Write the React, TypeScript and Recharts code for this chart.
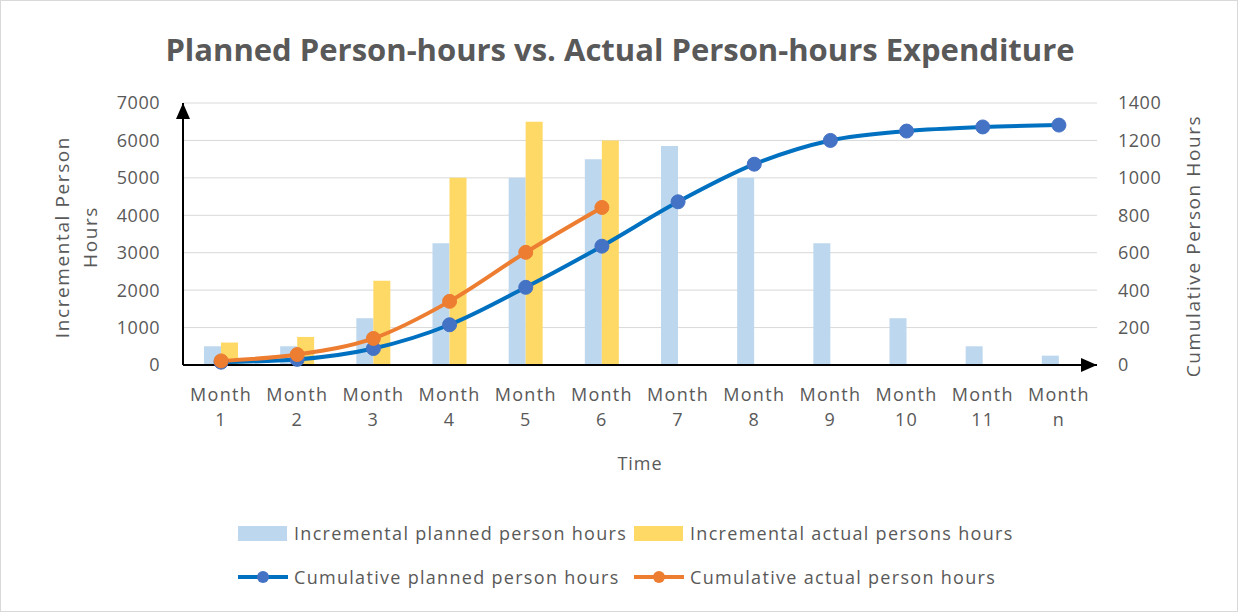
import React from "react";
import {
  ComposedChart,
  Bar,
  Line,
  XAxis,
  YAxis,
  CartesianGrid,
} from "recharts";

const MONTHS = ["1", "2", "3", "4", "5", "6", "7", "8", "9", "10", "11", "n"];
const PLANNED_INC = [500, 500, 1250, 3250, 5000, 5500, 5850, 5000, 3250, 1250, 500, 250];
const ACTUAL_INC = [600, 750, 2250, 5000, 6500, 6000, null, null, null, null, null, null];
const PLANNED_CUM = [15, 30, 88, 215, 415, 635, 872, 1073, 1200, 1250, 1272, 1282];
const ACTUAL_CUM = [22, 56, 142, 340, 602, 842, null, null, null, null, null, null];
const LEFT_TICKS = [0, 1000, 2000, 3000, 4000, 5000, 6000, 7000];
const RIGHT_TICKS = [0, 200, 400, 600, 800, 1000, 1200, 1400];

const data = MONTHS.map((m, i) => ({
  month: m,
  plannedInc: PLANNED_INC[i],
  actualInc: ACTUAL_INC[i],
  plannedCum: PLANNED_CUM[i],
  actualCum: ACTUAL_CUM[i],
}));

const FONT = "'Open Sans', sans-serif";
const GREY = "#595959";

const C_PLANNED_BAR = "#BDD7EE";
const C_ACTUAL_BAR = "#FFD966";
const C_PLANNED_LINE = "#0070C0";
const C_PLANNED_DOT = "#4472C4";
const C_ACTUAL_LINE = "#ED7D31";

function MonthTick(props: any) {
  const { x, y, payload } = props;
  return (
    <text x={x} y={y} textAnchor="middle" fill={GREY} fontSize={18} fontFamily={FONT} letterSpacing={1.3}>
      <tspan x={x} dy={28}>Month</tspan>
      <tspan x={x} dy={25}>{payload.value}</tspan>
    </text>
  );
}

function LegendItem({ kind, color, dot, label }: { kind: "bar" | "line"; color: string; dot?: string; label: string }) {
  return (
    <div style={{ display: "flex", alignItems: "center" }}>
      {kind === "bar" ? (
        <div style={{ width: 49, height: 15, background: color, marginRight: 7 }} />
      ) : (
        <svg width={50} height={16} style={{ marginRight: 6 }}>
          <line x1={0} y1={8} x2={50} y2={8} stroke={color} strokeWidth={4} />
          <circle cx={25} cy={8} r={6} fill={dot} />
        </svg>
      )}
      <span>{label}</span>
    </div>
  );
}

export default function App() {
  return (
    <div
      style={{
        position: "relative",
        width: 1238,
        height: 612,
        boxSizing: "border-box",
        border: "1px solid #D9D9D9",
        background: "#fff",
        fontFamily: FONT,
        overflow: "hidden",
      }}
    >
      <style>{"body{margin:0}"}</style>
      <svg width={0} height={0} style={{ position: "absolute" }}>
        <defs>
          <marker
            id="axisArrow"
            viewBox="0 0 16 14"
            refX={16}
            refY={7}
            markerWidth={16}
            markerHeight={14}
            markerUnits="userSpaceOnUse"
            orient="auto-start-reverse"
          >
            <path d="M0,0 L16,7 L0,14 z" fill="#000" />
          </marker>
        </defs>
      </svg>

      <div
        style={{
          position: "absolute",
          top: 27,
          left: 0,
          width: 1238,
          textAlign: "center",
          fontSize: 31,
          fontWeight: 700,
          color: GREY,
        }}
      >
        Planned Person-hours vs. Actual Person-hours Expenditure
      </div>

      <ComposedChart
        width={1236}
        height={610}
        data={data}
        margin={{ top: 102, right: 80, bottom: 136, left: 122 }}
        barSize={17}
        barGap={0}
        style={{ position: "absolute", top: 0, left: 0 }}
      >
        <CartesianGrid vertical={false} stroke="#D9D9D9" yAxisId="left" />
        <XAxis
          dataKey="month"
          height={110}
          axisLine={{ stroke: "#000", strokeWidth: 2, markerEnd: "url(#axisArrow)" }}
          tickLine={false}
          tick={<MonthTick />}
          interval={0}
          label={{ value: "Time", position: "insideTop", offset: 92, fill: GREY, fontSize: 18, fontFamily: FONT, letterSpacing: 1 }}
        />
        <YAxis
          yAxisId="left"
          domain={[0, 7000]}
          ticks={LEFT_TICKS}
          width={60}
          axisLine={{ stroke: "#000", strokeWidth: 2, markerStart: "url(#axisArrow)" }}
          tickLine={false}
          tickSize={0}
          tickMargin={23}
          tick={{ fill: GREY, fontSize: 18, fontFamily: FONT, letterSpacing: 0.5 }}
        />
        <YAxis
          yAxisId="right"
          orientation="right"
          domain={[0, 1400]}
          ticks={RIGHT_TICKS}
          width={60}
          axisLine={false}
          tickLine={false}
          tickSize={0}
          tickMargin={21}
          tick={{ fill: GREY, fontSize: 18, fontFamily: FONT, letterSpacing: 0.5, textAnchor: "start" }}
        />
        <Bar yAxisId="left" dataKey="plannedInc" fill={C_PLANNED_BAR} isAnimationActive={false} />
        <Bar yAxisId="left" dataKey="actualInc" fill={C_ACTUAL_BAR} isAnimationActive={false} />
        <Line
          yAxisId="right"
          type="monotone"
          dataKey="plannedCum"
          stroke={C_PLANNED_LINE}
          strokeWidth={4}
          dot={{ r: 7, fill: C_PLANNED_DOT, stroke: C_PLANNED_DOT, strokeWidth: 1 }}
          isAnimationActive={false}
        />
        <Line
          yAxisId="right"
          type="monotone"
          dataKey="actualCum"
          stroke={C_ACTUAL_LINE}
          strokeWidth={4}
          dot={{ r: 7, fill: C_ACTUAL_LINE, stroke: C_ACTUAL_LINE, strokeWidth: 1 }}
          isAnimationActive={false}
        />
      </ComposedChart>

      <div
        style={{
          position: "absolute",
          left: 75,
          top: 236,
          transform: "translate(-50%, -50%) rotate(-90deg)",
          fontSize: 19,
          letterSpacing: 1.6,
          color: GREY,
          textAlign: "center",
          lineHeight: "28px",
          whiteSpace: "nowrap",
          width: 260,
        }}
      >
        Incremental Person
        <br />
        Hours
      </div>
      <div
        style={{
          position: "absolute",
          left: 1192,
          top: 245,
          transform: "translate(-50%, -50%) rotate(-90deg)",
          fontSize: 19,
          letterSpacing: 1.6,
          color: GREY,
          whiteSpace: "nowrap",
        }}
      >
        Cumulative Person Hours
      </div>

      <div
        style={{
          position: "absolute",
          top: 520,
          left: 237,
          fontSize: 18,
          letterSpacing: 1.3,
          color: GREY,
          display: "grid",
          gridTemplateColumns: "396px auto",
          rowGap: 20,
        }}
      >
        <LegendItem kind="bar" color={C_PLANNED_BAR} label="Incremental planned person hours" />
        <LegendItem kind="bar" color={C_ACTUAL_BAR} label="Incremental actual persons hours" />
        <LegendItem kind="line" color={C_PLANNED_LINE} dot={C_PLANNED_DOT} label="Cumulative planned person hours" />
        <LegendItem kind="line" color={C_ACTUAL_LINE} dot={C_ACTUAL_LINE} label="Cumulative actual person hours" />
      </div>
    </div>
  );
}
